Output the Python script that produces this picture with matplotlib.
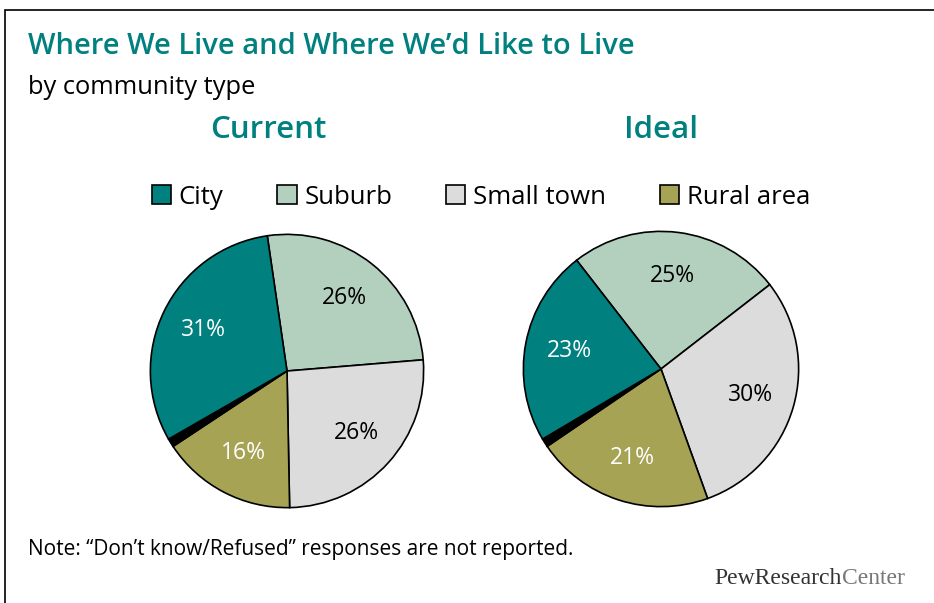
import matplotlib
matplotlib.use("Agg")
import matplotlib.pyplot as plt
from matplotlib.patches import Rectangle

# data
categories = ['City', 'Suburb', 'Small town', 'Rural area', "Don't know"]
current = [31, 26, 26, 16, 1]
ideal = [23, 25, 30, 21, 1]
colors = ['#00807f', '#b3d0bf', '#dcdcdc', '#a6a354', '#000000']
text_colors = ['white', 'black', 'black', 'white', 'none']

W, H = 934, 603
teal = '#00807f'
plt.rcParams['font.family'] = ['Open Sans', 'DejaVu Sans']

fig = plt.figure(figsize=(W / 100, H / 100), dpi=100)
fig.patches.append(Rectangle((5 / W, -0.1), 1.2, (H - 10) / H + 0.1,
                             transform=fig.transFigure, fill=False,
                             edgecolor='black', linewidth=1.2))


def draw_pie(cx, cy, r, vals, start):
    ax = fig.add_axes([(cx - r) / W, (H - cy - r) / H, 2 * r / W, 2 * r / H])
    # order around the pie clockwise: Suburb, Small town, Rural, DK, City
    order = [1, 2, 3, 4, 0]
    v = [vals[i] for i in order]
    c = [colors[i] for i in order]
    wedges, texts, autos = ax.pie(
        v, colors=c, startangle=start, counterclock=False,
        autopct='%d%%', pctdistance=0.68,
        wedgeprops=dict(edgecolor='black', linewidth=1.2))
    for i, t in zip(order, autos):
        t.set_color(text_colors[i])
        t.set_fontsize(16.5)
    autos[3].set_text('')
    ax.set_xlim(-1.01, 1.01)
    ax.set_ylim(-1.01, 1.01)
    ax.set_aspect('equal')
    return wedges


w1 = draw_pie(287, 371, 138, current, 98.3)
w2 = draw_pie(661, 369, 139, ideal, 127.8)

fig.text(28 / W, 1 - 47 / H, 'Where We Live and Where We\u2019d Like to Live',
         color=teal, fontsize=21, fontweight='semibold', va='center')
fig.text(28 / W, 1 - 88 / H, 'by community type', fontsize=18.4, va='center')
fig.text(268 / W, 1 - 130 / H, 'Current', color=teal, fontsize=22.5,
         fontweight='semibold', ha='center', va='center')
fig.text(661 / W, 1 - 130 / H, 'Ideal', color=teal, fontsize=22.5,
         fontweight='semibold', ha='center', va='center')

handles = [w1[4], w1[0], w1[1], w1[2]]
fig.legend(handles, categories[:4], loc='center', ncol=4,
           bbox_to_anchor=(481 / W, 1 - 197 / H), frameon=False,
           fontsize=18.5, handlelength=0.75, handleheight=0.75,
           handletextpad=0.3, columnspacing=2.1)

fig.text(28 / W, 1 - 549 / H,
         'Note: \u201cDon\u2019t know/Refused\u201d responses are not reported.',
         fontsize=15, va='center')

renderer = fig.canvas.get_renderer()
t_center = fig.text(905 / W, 1 - 579 / H, 'Center', family='Liberation Serif',
                    fontsize=17, color='#777777', va='center', ha='right')
bb = t_center.get_window_extent(renderer)
fig.text(bb.x0 / W, 1 - 579 / H, 'PewResearch', family='Liberation Serif',
         fontsize=17, color='#333333', va='center', ha='right')

fig.savefig('out.png', dpi=100)
